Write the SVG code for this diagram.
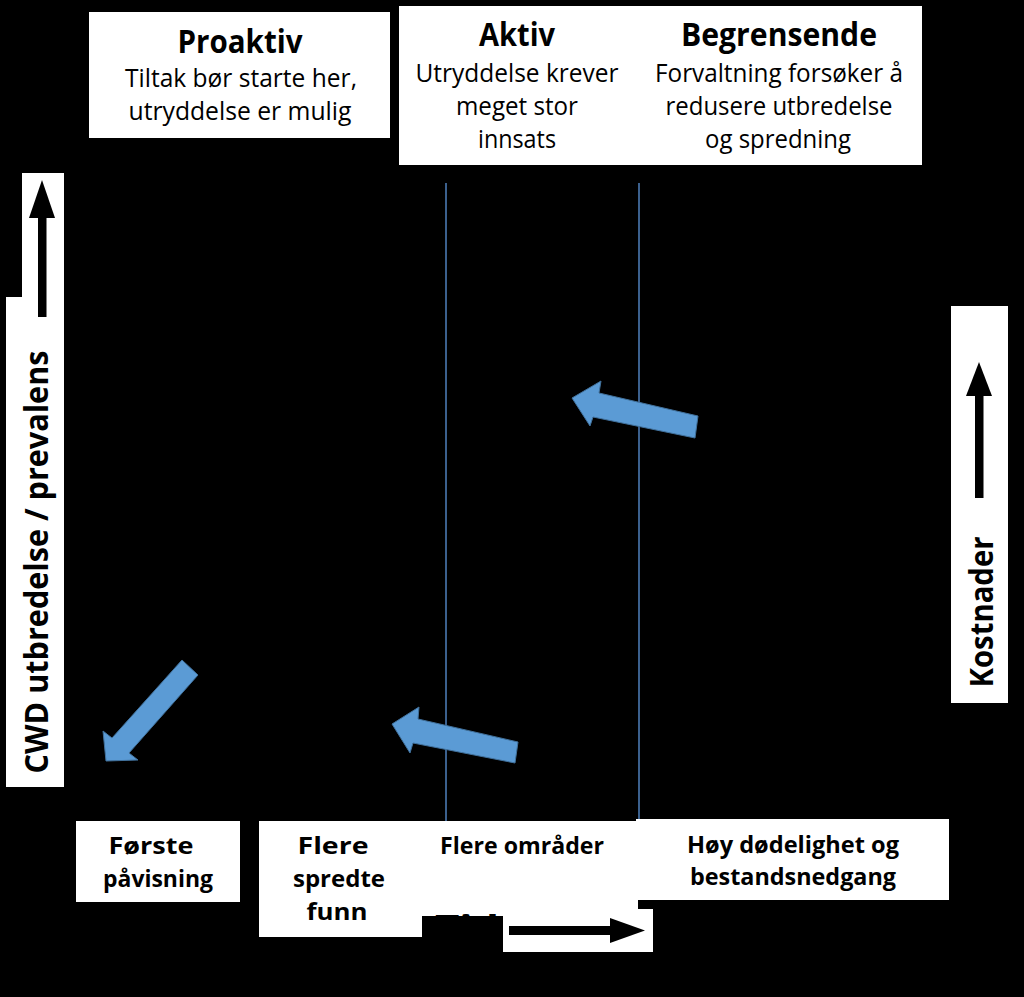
<svg xmlns="http://www.w3.org/2000/svg" width="1024" height="997" viewBox="0 0 1024 997">
<style>
.box{fill:#ffffff}
.t{font-family:"Open Sans","Liberation Sans",sans-serif;fill:#000;text-anchor:middle}
.h{font-size:32px;font-weight:bold}
.n{font-size:25px}
.b{font-size:24px;font-weight:bold}
.r{font-size:32px;font-weight:bold}
.vl{stroke:#4f81bd;stroke-width:1.5;fill:none}
.ba{fill:#5b9bd5;stroke:#41719c;stroke-width:1}
.ka{fill:#000}
</style>
<rect x="0" y="0" width="1024" height="997" fill="#000"/>

<g id="proaktiv">
<rect class="box" x="89" y="12" width="301" height="126"/>
<text class="t h" x="240" y="53" textLength="125" lengthAdjust="spacingAndGlyphs">Proaktiv</text>
<text class="t n" x="241" y="87" textLength="232" lengthAdjust="spacingAndGlyphs">Tiltak bør starte her,</text>
<text class="t n" x="240" y="120" textLength="223" lengthAdjust="spacingAndGlyphs">utryddelse er mulig</text>
</g>

<g id="aktiv-begrensende">
<rect class="box" x="399" y="6" width="523" height="159"/>
<text class="t h" x="517" y="46" textLength="76" lengthAdjust="spacingAndGlyphs">Aktiv</text>
<text class="t n" x="517" y="82" textLength="203" lengthAdjust="spacingAndGlyphs">Utryddelse krever</text>
<text class="t n" x="517" y="115" textLength="122" lengthAdjust="spacingAndGlyphs">meget stor</text>
<text class="t n" x="517" y="148" textLength="78" lengthAdjust="spacingAndGlyphs">innsats</text>
<text class="t h" x="779" y="46" textLength="196" lengthAdjust="spacingAndGlyphs">Begrensende</text>
<text class="t n" x="779" y="82" textLength="248" lengthAdjust="spacingAndGlyphs">Forvaltning forsøker å</text>
<text class="t n" x="779" y="115" textLength="227" lengthAdjust="spacingAndGlyphs">redusere utbredelse</text>
<text class="t n" x="778" y="148" textLength="146" lengthAdjust="spacingAndGlyphs">og spredning</text>
</g>

<g id="y-axis">
<path class="box" d="M22 173 H64 V787 H6 V297 H22 Z"/>
<rect class="ka" x="38" y="215" width="8.5" height="102"/>
<polygon class="ka" points="42,180 55,218 29,218"/>
<text class="t r" transform="translate(48,562) rotate(-90)" x="0" y="0" textLength="423" lengthAdjust="spacingAndGlyphs">CWD utbredelse / prevalens</text>
</g>

<g id="kostnader">
<rect class="box" x="951" y="306" width="57" height="397"/>
<rect class="ka" x="975" y="392" width="8.5" height="106"/>
<polygon class="ka" points="979,362 992,396 966,396"/>
<text class="t r" transform="translate(993,612) rotate(-90)" x="0" y="0" textLength="151" lengthAdjust="spacingAndGlyphs">Kostnader</text>
</g>

<g id="connectors">
<line class="vl" x1="446" y1="183" x2="446" y2="821"/>
<line class="vl" x1="639" y1="183" x2="639" y2="819"/>
<polygon class="ba" points="572,398 601,381 599,393 698,416 695,438 593,417 590,426"/>
<polygon class="ba" points="392,724 419,707 418,719 518,742 515,763 413,743 410,753"/>
<polygon class="ba" points="106,761 103,731 112,738 182,660 198,675 129,753 138,760"/>
</g>

<g id="forste">
<rect class="box" x="76" y="821" width="164" height="81"/>
<text class="t b" x="151" y="854" textLength="85" lengthAdjust="spacingAndGlyphs">Første</text>
<text class="t b" x="158" y="887" textLength="110" lengthAdjust="spacingAndGlyphs">påvisning</text>
</g>

<g id="flere">
<rect class="box" x="259" y="821" width="379" height="116"/>
<text class="t b" x="333" y="854" textLength="71" lengthAdjust="spacingAndGlyphs">Flere</text>
<text class="t b" x="339" y="887" textLength="92" lengthAdjust="spacingAndGlyphs">spredte</text>
<text class="t b" x="337" y="920" textLength="61" lengthAdjust="spacingAndGlyphs">funn</text>
<text class="t b" x="522" y="854" textLength="164" lengthAdjust="spacingAndGlyphs">Flere områder</text>
</g>

<g id="hoy">
<rect class="box" x="636" y="819" width="313" height="81"/>
<text class="t b" x="793" y="853" textLength="212" lengthAdjust="spacingAndGlyphs">Høy dødelighet og</text>
<text class="t b" x="793" y="885" textLength="206" lengthAdjust="spacingAndGlyphs">bestandsnedgang</text>
</g>

<g id="tid">
<text class="t b" x="467" y="932" font-size="28" textLength="64" lengthAdjust="spacingAndGlyphs">Tid</text>
<rect x="422" y="916" width="81" height="30" fill="#000"/>
<rect class="box" x="503" y="909" width="150" height="43"/>
<rect class="ka" x="509" y="926" width="104" height="9"/>
<polygon class="ka" points="645,930.5 610,918 610,943"/>
</g>
</svg>
